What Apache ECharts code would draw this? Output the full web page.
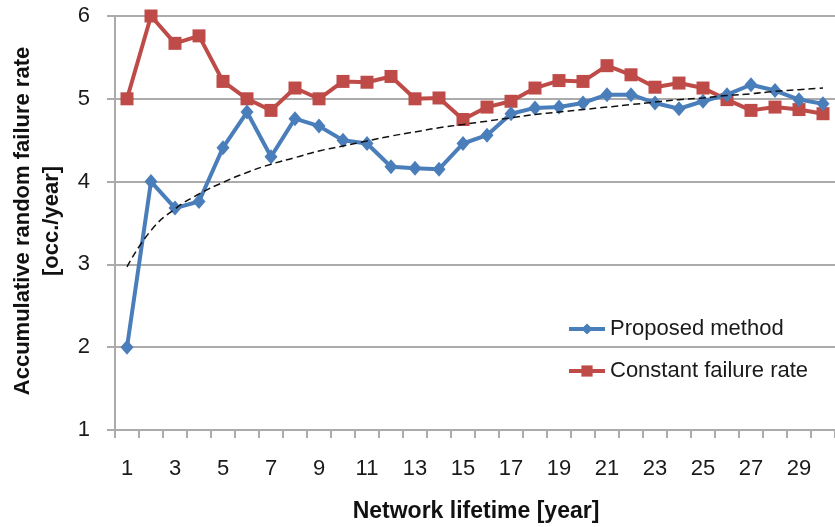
<!DOCTYPE html>
<html>
<head>
<meta charset="utf-8">
<script src="https://cdn.jsdelivr.net/npm/echarts@6/dist/echarts.min.js"></script>
<style>
html,body{margin:0;padding:0;background:#fff;}
#chart{width:835px;height:527px;}
</style>
</head>
<body>
<div id="chart"></div>
<script>
const years = ['1','2','3','4','5','6','7','8','9','10','11','12','13','14','15','16','17','18','19','20','21','22','23','24','25','26','27','28','29','30'];
const proposed = [2.00,4.00,3.68,3.76,4.41,4.84,4.30,4.76,4.67,4.50,4.46,4.18,4.16,4.15,4.46,4.56,4.82,4.89,4.90,4.95,5.05,5.05,4.95,4.88,4.97,5.05,5.17,5.10,4.99,4.94];
const constantRate = [5.00,6.00,5.67,5.76,5.21,5.00,4.86,5.13,5.00,5.21,5.20,5.27,5.00,5.01,4.75,4.90,4.97,5.13,5.22,5.21,5.40,5.29,5.14,5.19,5.13,4.99,4.86,4.90,4.87,4.82];
const trend = [2.97,3.41,3.67,3.85,3.99,4.11,4.21,4.29,4.37,4.43,4.49,4.55,4.60,4.65,4.69,4.73,4.77,4.81,4.84,4.87,4.90,4.93,4.96,4.99,5.01,5.04,5.06,5.09,5.11,5.13];
const yTicks = [1,2,3,4,5,6];
const seriesNames = ['Proposed method','Constant failure rate'];
const yTitle = 'Accumulative random failure rate\n[occ./year]';
const xTitle = 'Network lifetime [year]';

const FONT = '"Liberation Sans", Arial, sans-serif';
const GRID = '#ababab';
const TXT = '#1a1a1a';
const chart = echarts.init(document.getElementById('chart'), null, {renderer:'canvas'});
chart.setOption({
  animation: false,
  backgroundColor: '#fff',
  grid: {left: 115, right: 0, top: 16, bottom: 97, containLabel: false},
  xAxis: {
    type: 'category',
    data: years,
    boundaryGap: true,
    axisLine: {lineStyle: {color: GRID, width: 2}},
    axisTick: {show: true, interval: 0, length: 8, lineStyle: {color: GRID, width: 2}},
    axisLabel: {interval: 1, color: TXT, fontFamily: FONT, fontSize: 22, margin: 28},
    splitLine: {show: false}
  },
  yAxis: {
    type: 'value',
    min: yTicks[0], max: yTicks[yTicks.length-1], interval: 1,
    axisLine: {show: true, lineStyle: {color: GRID, width: 2}},
    axisTick: {show: true, length: 8, lineStyle: {color: GRID, width: 2}},
    axisLabel: {color: TXT, fontFamily: FONT, fontSize: 22, margin: 25},
    splitLine: {show: true, lineStyle: {color: GRID, width: 2}}
  },
  legend: {
    data: seriesNames,
    orient: 'vertical',
    left: 567, top: 318, padding: 0,
    itemWidth: 36, itemHeight: 14, itemGap: 20,
    lineStyle: {width: 4},
    textStyle: {color: TXT, fontFamily: FONT, fontSize: 22}
  },
  graphic: [
    {type: 'text', x: 37, y: 221, rotation: Math.PI/2,
     style: {text: yTitle, font: 'bold 22px ' + FONT, fill: '#111', align: 'center', verticalAlign: 'middle', lineHeight: 29}},
    {type: 'text', x: 476, y: 512,
     style: {text: xTitle, font: 'bold 23px ' + FONT, fill: '#111', align: 'center', verticalAlign: 'middle'}}
  ],
  series: [
    {name: seriesNames[0], type: 'line', data: proposed, symbol: 'diamond', symbolSize: [13,15],
     lineStyle: {color: '#4a7ebb', width: 4}, itemStyle: {color: '#4a7ebb'}, z: 3},
    {name: seriesNames[1], type: 'line', data: constantRate, symbol: 'rect', symbolSize: 13,
     lineStyle: {color: '#be4b48', width: 4}, itemStyle: {color: '#be4b48'}, z: 2},
    {name: 'trend', type: 'line', data: trend, symbol: 'none', smooth: true,
     lineStyle: {color: '#111', width: 1.5, type: [7,4]}, z: 4}
  ]
});
</script>
</body>
</html>
